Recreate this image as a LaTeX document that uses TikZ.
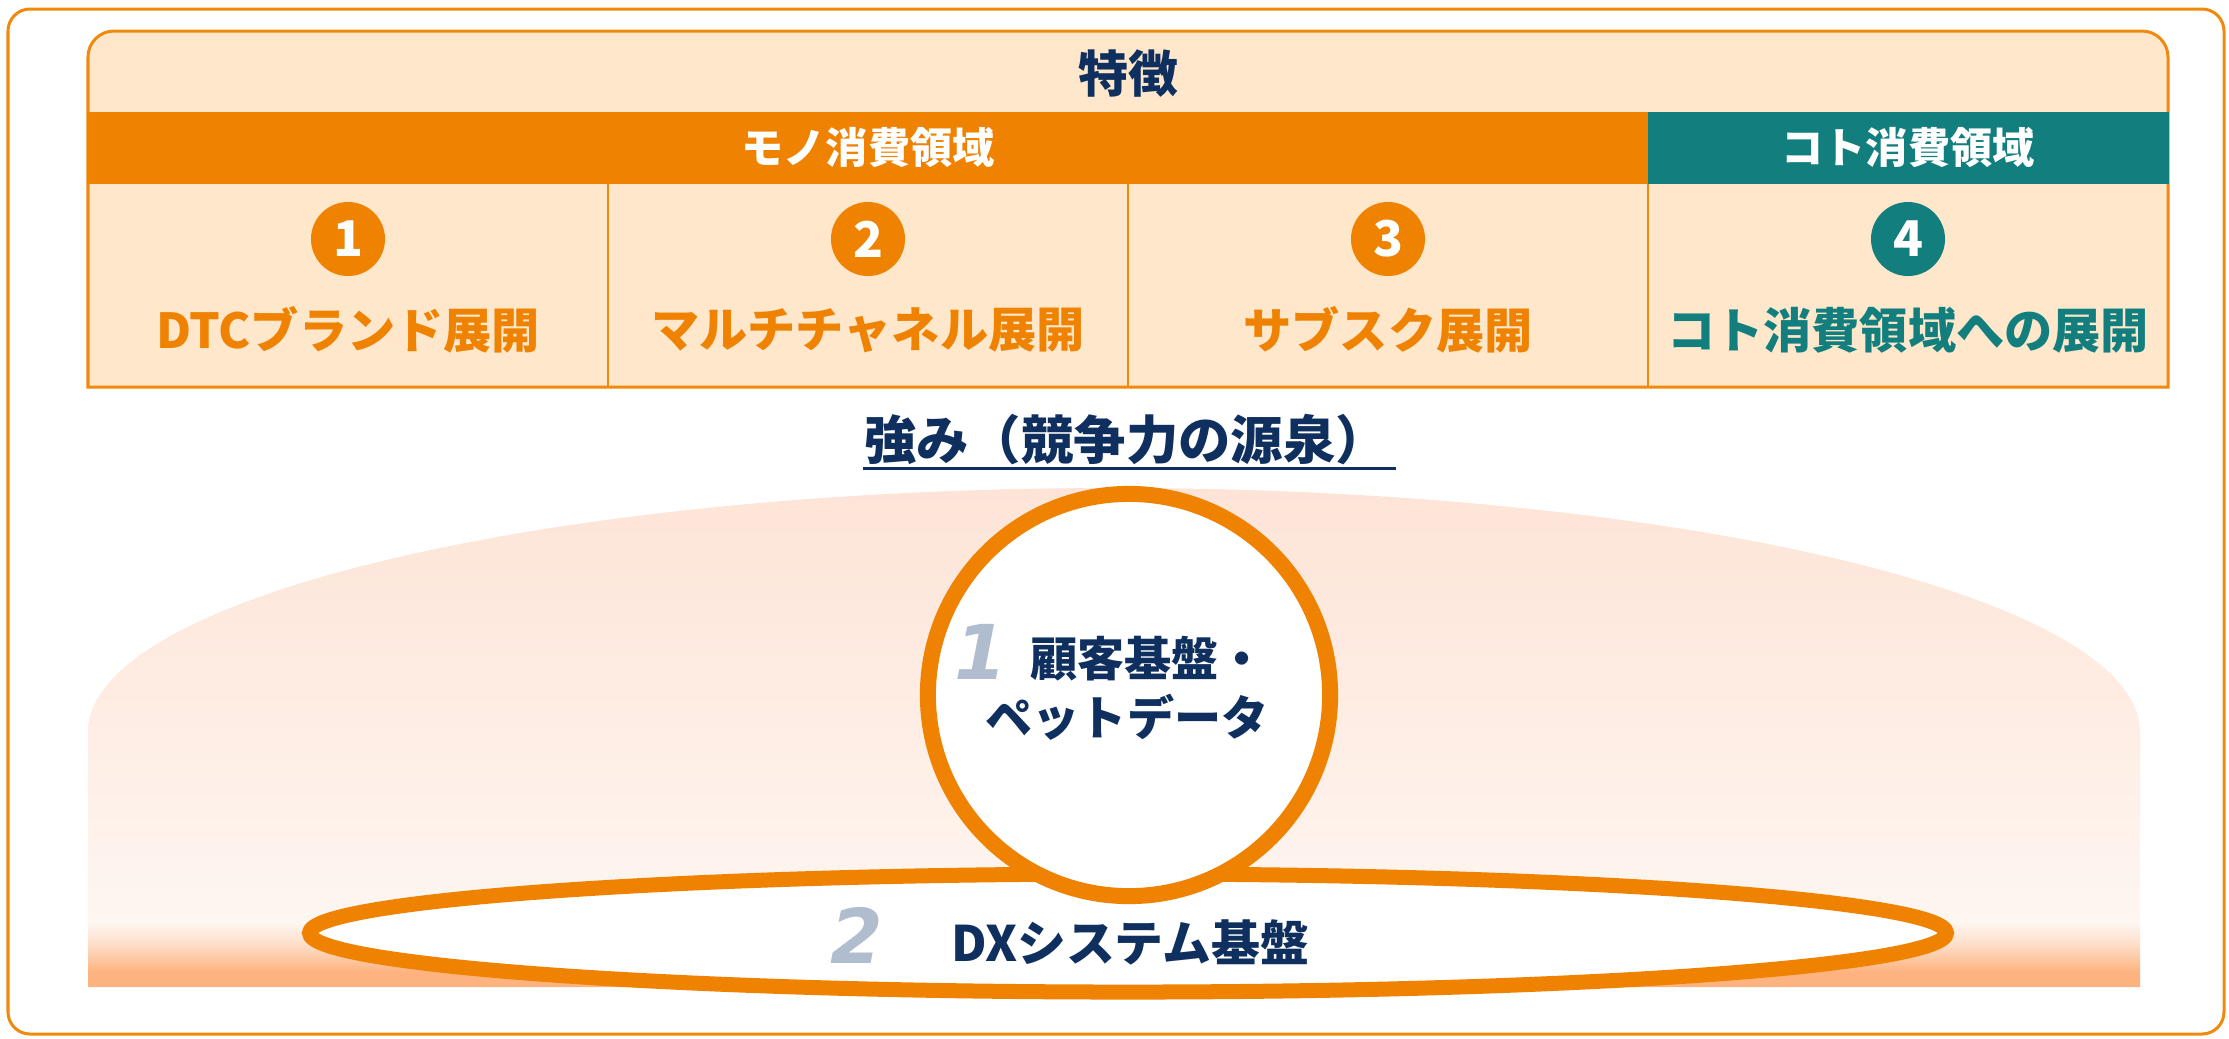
\documentclass[tikz,border=0pt]{standalone}
\usepackage{fontspec}
\usetikzlibrary{shapes.geometric}
\newfontfamily\jp{Noto Sans CJK JP}
\newfontfamily\dv{DejaVu Sans}
\definecolor{orng}{HTML}{EF8200}
\definecolor{orngline}{HTML}{F08A0C}
\definecolor{tealc}{HTML}{127F7E}
\definecolor{peach}{HTML}{FEE7CA}
\definecolor{navy}{HTML}{0F2F5E}
\definecolor{grayblue}{HTML}{AFBDCE}
\definecolor{bgtop}{HTML}{FDE4D7}
\definecolor{bgmid}{HTML}{FEEEE5}
\definecolor{bgw}{HTML}{FEF6F1}
\definecolor{bgb3}{HTML}{FEDDC6}
\definecolor{bgb2}{HTML}{FDC49C}
\definecolor{bgbot}{HTML}{FDB37F}
\pgfdeclareverticalshading{bgshade}{100bp}{color(0bp)=(bgbot); color(25bp)=(bgbot); color(26.5bp)=(bgbot); color(27.6bp)=(bgb2); color(29.2bp)=(bgb3); color(31.4bp)=(bgw); color(50bp)=(bgmid); color(75bp)=(bgtop); color(100bp)=(bgtop)}
\tikzset{
  jpb/.style={font=\jp\bfseries\fontsize{#1}{#1}\selectfont, inner sep=0pt},
  numdot/.style={circle, minimum size=0.74cm, inner sep=0pt, text=white, jpb=14pt},
  celltext/.style={jpb=13.7pt},
  bigdigit/.style={font=\dv\bfseries\itshape\fontsize{21.5pt}{21.5pt}\selectfont, text=grayblue, inner sep=0pt},
}
\begin{document}
\begin{tikzpicture}[x=0.01cm,y=0.01cm]
\useasboundingbox (0,0) rectangle (2229,-1038);
% outer frame
\draw[draw=orngline, line width=0.03cm, rounded corners=0.22cm] (8,-9) rectangle (2224,-1034);
% top panel
\path[fill=peach, draw=orngline, line width=0.03cm] (88,-387) -- (88,-57) arc[start angle=180, end angle=90, radius=26] -- (2142,-31) arc[start angle=90, end angle=0, radius=26] -- (2168,-387) -- cycle;
\fill[orng] (87,-112) rectangle (1648,-184);
\fill[tealc] (1648,-112) rectangle (2169,-184);
\foreach \xx in {608,1128,1648} \draw[orngline, line width=0.025cm] (\xx,-184) -- (\xx,-387);
\node[jpb=14.2pt, text=navy] (title) at (1128,-74) {特徴};
\node[jpb=12pt, text=white] (mono) at (868,-148) {モノ消費領域};
\node[jpb=12pt, text=white] (koto) at (1908,-148) {コト消費領域};
\node[numdot, fill=orng] (n1) at (348,-239) {1};
\node[numdot, fill=orng] (n2) at (868,-239) {2};
\node[numdot, fill=orng] (n3) at (1388,-239) {3};
\node[numdot, fill=tealc] (n4) at (1908,-239) {4};
\node[celltext, text=orng] (t1) at (348,-330) {DTCブランド展開};
\node[celltext, text=orng] (t2) at (868,-330) {マルチチャネル展開};
\node[celltext, text=orng] (t3) at (1388,-330) {サブスク展開};
\node[celltext, text=tealc] (t4) at (1908,-330) {コト消費領域への展開};
% strengths heading
\node[jpb=14.9pt, text=navy] (strength) at (1126,-440) {強み（競争力の源泉）};
\draw[navy, line width=0.03cm] (863,-468) -- (1396,-468);
% background
\shade[shading=bgshade] (88,-987) -- (88,-732) arc[start angle=180, end angle=0, x radius=1026, y radius=244] -- (2140,-987) -- cycle;
% DX ellipse
\node[ellipse, draw=orng, fill=white, line width=0.15cm, minimum width=16.36cm, minimum height=1.18cm, inner sep=0pt] (dxell) at (1128,-933) {};
% customer circle
\node[circle, draw=orng, fill=white, line width=0.16cm, minimum size=4.02cm, inner sep=0pt] (cust) at (1129,-695) {};
\node[bigdigit] (d1) at (981,-652) {1};
\node[jpb=13.4pt, text=navy] (c1) at (1148,-659) {顧客基盤・};
\node[jpb=13.4pt, text=navy] (c2) at (1127,-717) {ペットデータ};
\node[bigdigit] (d2) at (857,-935) {2};
\node[jpb=13.9pt, text=navy] (dx) at (1130,-942) {DXシステム基盤};
\end{tikzpicture}
\end{document}
